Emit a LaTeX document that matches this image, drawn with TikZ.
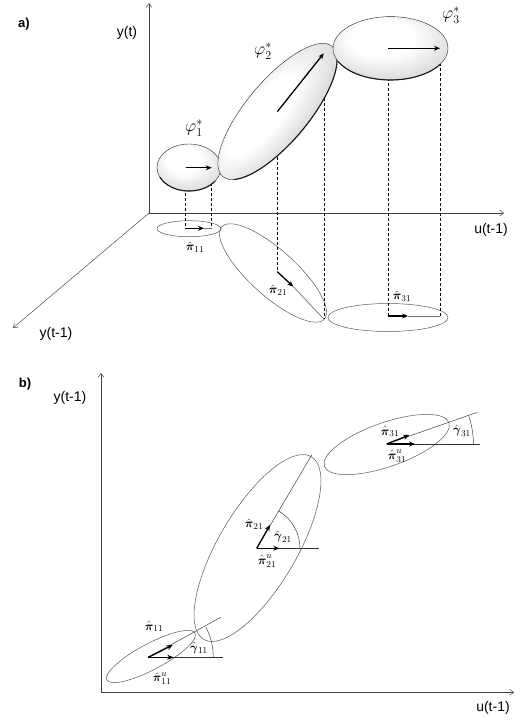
\documentclass[tikz,border=0pt]{standalone}
\usepackage{amsmath}
\usepackage{fontspec}
\newfontfamily\arial{Liberation Sans}
\usetikzlibrary{arrows.meta,calc}
\pgfdeclareradialshading{ovoid}{\pgfpoint{-5bp}{10bp}}{color(0bp)=(white); color(14bp)=(white); color(30bp)=(black!14); color(41bp)=(black!40); color(48bp)=(black!72); color(54bp)=(black!95); color(60bp)=(black)}
\tikzset{
  axis/.style={draw=black!75, line width=0.45pt, -{Straight Barb[length=4pt,width=6pt]}},
  axlabel/.style={font=\arial\fontsize{14}{16}\selectfont, inner sep=0pt},
  panel/.style={font=\arial\bfseries\fontsize{13}{15}\selectfont, inner sep=0pt},
  dash3/.style={draw=black, line width=0.45pt, dash pattern=on 3pt off 2pt},
  vec/.style={draw=black, line width=1.3pt, -{Stealth[length=6pt,width=5pt]}},
  tail/.style={draw=black!55, line width=0.7pt},
  proj/.style={draw=black!65, line width=0.5pt},
  ovoidshape/.style={shading=ovoid, draw=black!85, line width=0.4pt},
  rim/.style={draw=black!90, line width=1.1pt, line cap=round},
  gline/.style={draw=black!80, line width=0.45pt},
  lab/.style={font=\fontsize{13}{15}\selectfont, inner sep=0pt},
  phil/.style={font=\fontsize{18}{20}\selectfont, inner sep=0pt}
}
\begin{document}
\begin{tikzpicture}[x=1pt,y=-1pt]
\useasboundingbox[fill=white] (0,0) rectangle (523,720);

%================ panel a =================
\node[panel] (pa) at (24,24) {a)};
\coordinate (O) at (149,213);
\coordinate (Ytop) at (149,3);
\coordinate (Uend) at (504,213);
\coordinate (Yend) at (13,328);
\draw[axis] (O) -- (Ytop);
\draw[axis] (O) -- (Uend);
\draw[axis] (O) -- (Yend);
\node[axlabel] (lyt) at (127,33) {y(t)};
\node[axlabel] (lut) at (491,230) {u(t-1)};
\node[axlabel] (lyt1) at (56,334) {y(t-1)};

% projection ellipses
\coordinate (p1c) at (189,228.7);
\coordinate (p2c) at (273,273);
\coordinate (p3c) at (388,317.5);
\draw[proj] (p1c) ellipse [x radius=32pt, y radius=8pt];
\draw[proj, rotate around={-42:(p2c)}] (p2c) ellipse [x radius=69pt, y radius=23pt];
\draw[proj] (p3c) ellipse [x radius=60pt, y radius=14pt];

% key points
\coordinate (a1s) at (185.7,167.7);
\coordinate (a1e) at (211.7,167.7);
\coordinate (b1s) at (185.7,228.3);
\coordinate (b1h) at (204,228.3);
\coordinate (b1e) at (211.7,228.3);
\coordinate (a2s) at (277.3,111.7);
\coordinate (a2e) at (323.8,53.3);
\coordinate (b2s) at (277.3,271.7);
\coordinate (b2h) at (293.3,286.7);
\coordinate (b2e) at (323.8,319);
\coordinate (a3s) at (388.3,48.3);
\coordinate (a3e) at (440,48.3);
\coordinate (b3s) at (388.3,316);
\coordinate (b3h) at (408,316);
\coordinate (b3e) at (440,316);

% dashed drop lines
\draw[dash3] (a1s) -- (b1s);
\draw[dash3] (a1e) -- (b1e);
\draw[dash3] (a2s) -- (b2s);
\draw[dash3] (a2e) -- (b2e);
\draw[dash3] (a3s) -- (b3s);
\draw[dash3] (a3e) -- (b3e);

% ellipsoids
\coordinate (e1) at (189,167.5);
\coordinate (e2) at (277.5,111.5);
\coordinate (e3) at (390.5,48.3);
\shade[ovoidshape] (e1) ellipse [x radius=32pt, y radius=23.5pt];
\draw[rim] ($(e1)+(205:32pt and 23.5pt)$) arc[start angle=205, end angle=325, x radius=32pt, y radius=23.5pt];
\begin{scope}[transform canvas={rotate around={50:(e2)}}]
\shade[ovoidshape] (e2) ellipse [x radius=85pt, y radius=31pt];
\draw[rim] ($(e2)+(200:85pt and 31pt)$) arc[start angle=200, end angle=345, x radius=85pt, y radius=31pt];
\end{scope}
\shade[ovoidshape] (e3) ellipse [x radius=57.5pt, y radius=31.7pt];
\draw[rim] ($(e3)+(205:57.5pt and 31.7pt)$) arc[start angle=205, end angle=330, x radius=57.5pt, y radius=31.7pt];

% vectors in ellipsoids
\draw[vec] (a1s) -- (a1e);
\draw[vec] (a2s) -- (a2e);
\draw[vec] (a3s) -- (a3e);

% vectors in projections
\draw[tail] (b1h) -- (b1e);
\draw[tail] (b2h) -- (b2e);
\draw[tail] (b3h) -- (b3e);
\draw[vec] (b1s) -- (b1h);
\draw[vec] (b2s) -- (b2h);
\draw[vec] (b3s) -- (b3h);

\node[phil] (f1) at (194,128) {$\varphi_1^{*}$};
\node[phil] (f2) at (263,51) {$\varphi_2^{*}$};
\node[phil] (f3) at (451,15) {$\varphi_3^{*}$};
\node[lab] (l11) at (195,247) {$\hat{\boldsymbol{\pi}}_{11}$};
\node[lab] (l21) at (278,290) {$\hat{\boldsymbol{\pi}}_{21}$};
\node[lab] (l31) at (402,296) {$\hat{\boldsymbol{\pi}}_{31}$};

%================ panel b =================
\node[panel] (pb) at (25,384) {b)};
\coordinate (O2) at (101,692.3);
\coordinate (Y2) at (101,373);
\coordinate (U2) at (514,692.3);
\draw[axis] (O2) -- (Y2);
\draw[axis] (O2) -- (U2);
\node[axlabel] (lby) at (70,398) {y(t-1)};
\node[axlabel] (lbu) at (493,708) {u(t-1)};

% ellipses
\draw[proj, rotate around={28:(151,656.5)}] (151,656.5) ellipse [x radius=50pt, y radius=13pt];
\draw[proj, rotate around={59.5:(257.5,548)}] (257.5,548) ellipse [x radius=106pt, y radius=39pt];
\draw[proj, rotate around={19.3:(386.7,444.5)}] (386.7,444.5) ellipse [x radius=66pt, y radius=22pt];

% cluster 1
\coordinate (c1) at (148.3,657.3);
\coordinate (c1l) at (220.7,617.3);
\coordinate (c1h) at (222.7,657.3);
\coordinate (c1p) at (172.7,645);
\coordinate (c1u) at (173.3,657.3);
\draw[gline] (c1) -- (c1l);
\draw[gline] (c1) -- (c1h);
\draw[gline] ($(c1)+(65pt,0pt)$) arc[start angle=0, end angle=28, radius=65pt];
\draw[vec] (c1) -- (c1p);
\draw[vec] (c1) -- (c1u);
\node[lab] (m11) at (154,626.7) {$\hat{\boldsymbol{\pi}}_{11}$};
\node[lab] (m11u) at (162,678.5) {$\hat{\boldsymbol{\pi}}^{u}_{11}$};
\node[lab] (g11) at (199,648.3) {$\hat{\boldsymbol{\gamma}}_{11}$};

% cluster 2
\coordinate (c2) at (256.7,548.3);
\coordinate (c2l) at (311.7,455);
\coordinate (c2h) at (319.3,548.3);
\coordinate (c2p) at (270,525);
\coordinate (c2u) at (279.3,548.3);
\draw[gline] (c2) -- (c2l);
\draw[gline] (c2) -- (c2h);
\draw[gline] ($(c2)+(43.3pt,0pt)$) arc[start angle=0, end angle=59.5, radius=43.3pt];
\draw[vec] (c2) -- (c2p);
\draw[vec] (c2) -- (c2u);
\node[lab] (m21) at (254,524.3) {$\hat{\boldsymbol{\pi}}_{21}$};
\node[lab] (m21u) at (267,561) {$\hat{\boldsymbol{\pi}}^{u}_{21}$};
\node[lab] (g21) at (283,537) {$\hat{\boldsymbol{\gamma}}_{21}$};

% cluster 3
\coordinate (c3) at (386.7,444);
\coordinate (c3l) at (477.3,412.3);
\coordinate (c3h) at (480,444);
\coordinate (c3p) at (409.3,435);
\coordinate (c3u) at (415,444);
\draw[gline] (c3) -- (c3l);
\draw[gline] (c3) -- (c3h);
\draw[gline] ($(c3)+(86.7pt,0pt)$) arc[start angle=0, end angle=19.3, radius=86.7pt];
\draw[vec] (c3) -- (c3p);
\draw[vec] (c3) -- (c3u);
\node[lab] (m31) at (390,431.7) {$\hat{\boldsymbol{\pi}}_{31}$};
\node[lab] (m31u) at (397,456) {$\hat{\boldsymbol{\pi}}^{u}_{31}$};
\node[lab] (g31) at (462,430.5) {$\hat{\boldsymbol{\gamma}}_{31}$};
\end{tikzpicture}
\end{document}
